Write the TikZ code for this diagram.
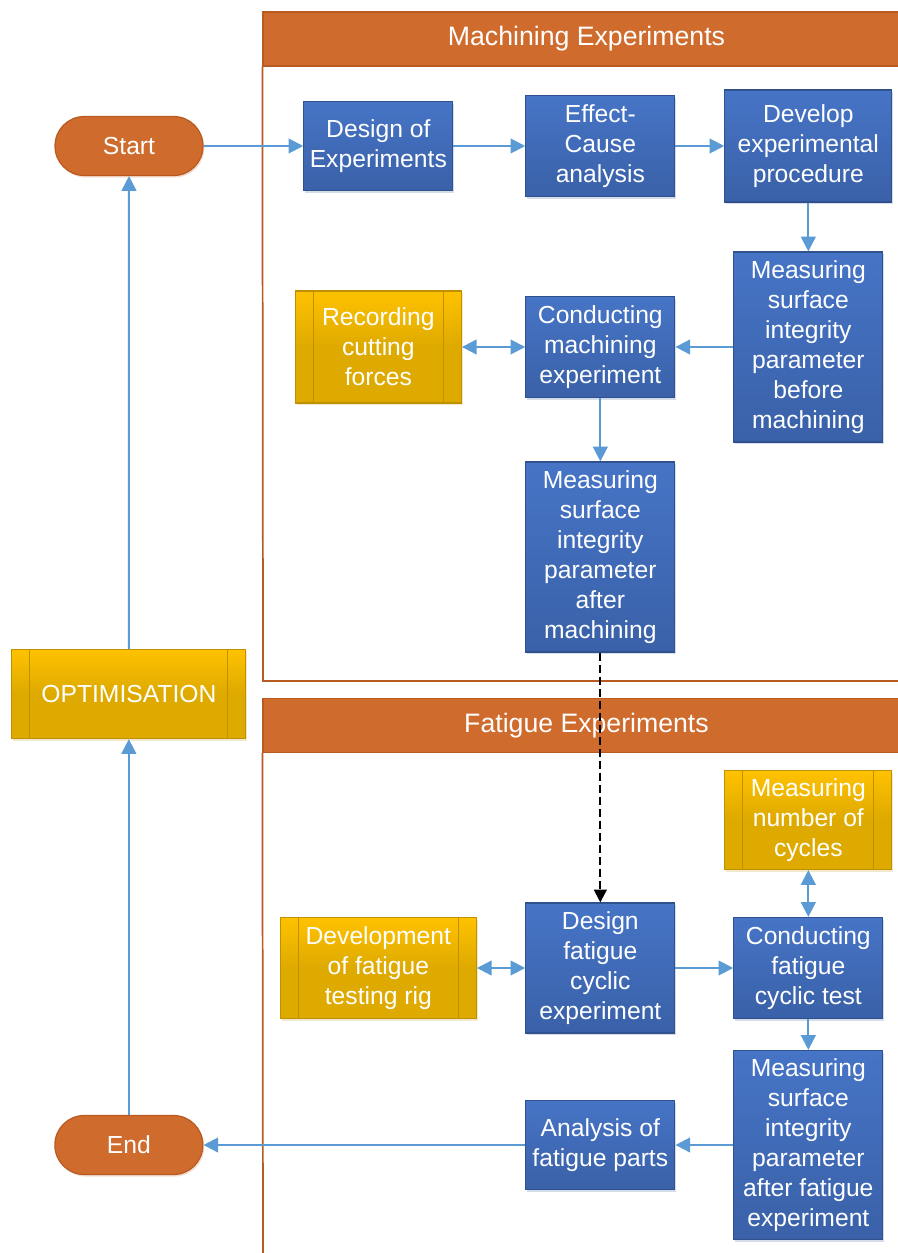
\documentclass[tikz,border=0pt]{standalone}
\usepackage{fontspec}
\setmainfont{Liberation Sans}
\usetikzlibrary{positioning,arrows.meta,shadows}
\definecolor{orng}{RGB}{207,107,45}
\definecolor{orngdark}{RGB}{185,90,32}
\definecolor{bluetop}{RGB}{70,116,198}
\definecolor{bluebot}{RGB}{58,97,168}
\definecolor{bluedark}{RGB}{47,82,143}
\definecolor{yeltop}{RGB}{255,194,0}
\definecolor{yelbot}{RGB}{222,170,0}
\definecolor{yeldark}{RGB}{191,144,0}
\definecolor{flowblue}{RGB}{91,155,213}
\newcommand\boxfont{\fontsize{18.5}{22.5}\selectfont}
\tikzset{
  blockbox/.style={draw=bluedark, line width=0.9pt, top color=bluetop, bottom color=bluebot,
    text=white, align=center, inner sep=0pt, font=\boxfont,
    drop shadow={shadow xshift=1pt, shadow yshift=-1.5pt, opacity=0.2, fill=bluedark}},
  procbox/.style={draw=yeldark, line width=0.9pt, top color=yeltop, bottom color=yelbot, middle color=yelbot,
    text=white, align=center, inner sep=0pt, font=\boxfont,
    drop shadow={shadow xshift=1pt, shadow yshift=-1.5pt, opacity=0.2, fill=yeldark},
    path picture={
      \draw[yeldark, line width=0.8pt]
        ([xshift=13.5pt]path picture bounding box.north west) -- ([xshift=13.5pt]path picture bounding box.south west)
        ([xshift=-13.5pt]path picture bounding box.north east) -- ([xshift=-13.5pt]path picture bounding box.south east);
    }},
  termbox/.style={draw=orngdark, line width=0.9pt, fill=orng, rounded corners=22pt, text=white,
    minimum width=111pt, minimum height=44.25pt, inner sep=0pt, font=\boxfont,
    drop shadow={shadow xshift=1pt, shadow yshift=-1.5pt, opacity=0.2, fill=orngdark}},
  headbox/.style={draw=orngdark, line width=0.9pt, fill=orng, text=white, inner sep=0pt,
    minimum width=485.25pt, minimum height=40.5pt, font=\fontsize{20}{24}\selectfont},
  lane/.style={draw=orngdark, line width=1.3pt},
  flow/.style={color=flowblue, line width=1.5pt, arrows={-Triangle[length=11pt,width=11pt]}},
  biflow/.style={arrows={Triangle[length=11pt,width=11pt]-Triangle[length=11pt,width=11pt]}},
  dashflow/.style={color=black, line width=1.5pt, dash pattern=on 6pt off 3pt, arrows={-Triangle[length=9.5pt,width=9.5pt]}}
}
\begin{document}
\begin{tikzpicture}[x=0.75pt,y=-0.75pt,node distance=2cm,on grid]
   \useasboundingbox (0,0) rectangle (897,1253);
   % swimlanes
   \node[headbox] (machhead) at (586.5,39) {Machining Experiments};
   \node[headbox] (fathead) at (586.5,725.5) {Fatigue Experiments};
   \draw[lane] (machhead.south west) -- (263,681) -- (915,681);
   \draw[lane] (fathead.south west) -- (263,1265);

   \node[termbox] (start) at (129,146) {Start};
   \node[blockbox, minimum width=111.75pt, minimum height=66.75pt] (doe) [right=187pt of start] {Design of\\Experiments};
   \node[blockbox, minimum width=111.75pt, minimum height=75.75pt] (effect) [right=166.5pt of doe] {Effect-\\Cause\\analysis};
   \node[blockbox, minimum width=125.25pt, minimum height=84pt] (develop) [right=156pt of effect] {Develop\\experimental\\procedure};
   \node[blockbox, minimum width=111.75pt, minimum height=142.5pt] (before) [below=150.75pt of develop] {Measuring\\surface\\integrity\\parameter\\before\\machining};
   \node[blockbox, minimum width=111.75pt, minimum height=75.75pt] (conduct) [left=156pt of before] {Conducting\\machining\\experiment};
   \node[procbox, minimum width=124.5pt, minimum height=84pt] (record) [left=166.5pt of conduct] {Recording\\cutting\\forces};
   \node[blockbox, minimum width=111.75pt, minimum height=142.5pt] (after) [below=157.5pt of conduct] {Measuring\\surface\\integrity\\parameter\\after\\machining};

   \node[blockbox, minimum width=111.75pt, minimum height=97.5pt] (dfat) [below=308.25pt of after] {Design\\fatigue\\cyclic\\experiment};
   \node[procbox, minimum width=147pt, minimum height=75.75pt] (rig) [left=166.5pt of dfat] {Development\\of fatigue\\testing rig};
   \node[blockbox, minimum width=111.75pt, minimum height=75.75pt] (cfat) [right=156pt of dfat] {Conducting\\fatigue\\cyclic test};
   \node[procbox, minimum width=125.25pt, minimum height=74.25pt] (cycles) [above=111pt of cfat] {Measuring\\number of\\cycles};
   \node[blockbox, minimum width=111.75pt, minimum height=141.75pt] (mfat) [below=132.75pt of cfat] {Measuring\\surface\\integrity\\parameter\\after fatigue\\experiment};
   \node[blockbox, minimum width=111.75pt, minimum height=66.75pt] (analysis) [left=156pt of mfat] {Analysis of\\fatigue parts};
   \node[termbox] (stop) [left=353.6pt of analysis] {End};
   \node[procbox, minimum width=175.5pt, minimum height=66.75pt] (optim) [above=338.25pt of stop] {OPTIMISATION};

    \path[flow]
    (start) edge (doe)
    (doe) edge (effect)
    (effect) edge (develop)
    (develop) edge (before)
    (before) edge (conduct)
    (conduct) edge[biflow] (record)
              edge (after)
    (rig) edge[biflow] (dfat)
    (dfat) edge (cfat)
    (cycles) edge[biflow] (cfat)
    (cfat) edge (mfat)
    (mfat) edge (analysis)
    (analysis) edge (stop)
    (stop) edge (optim)
    (optim) edge (start);
    \draw[dashflow] (after) -- (dfat);
\end{tikzpicture}
\end{document}
